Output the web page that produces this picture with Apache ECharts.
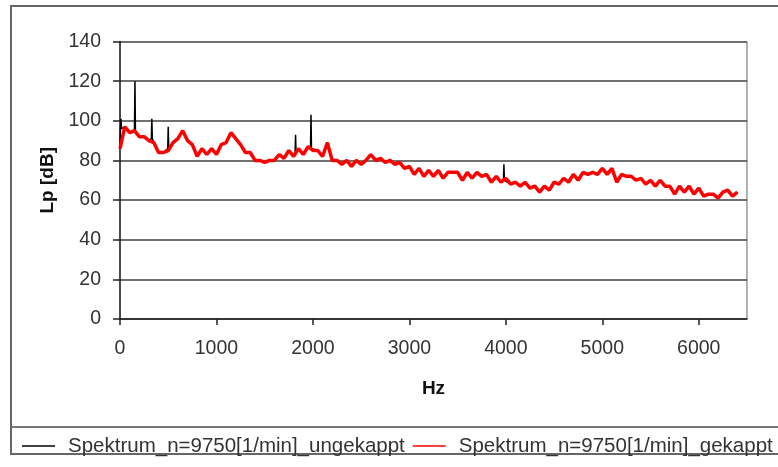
<!DOCTYPE html>
<html>
<head>
<meta charset="utf-8">
<title>Spektrum n=9750</title>
<script src="https://cdn.jsdelivr.net/npm/echarts@6/dist/echarts.min.js"></script>
<style>
  html, body { margin: 0; padding: 0; background: #fff; }
  #chart { width: 778px; height: 467px; }
</style>
</head>
<body>
<div id="chart"></div>
<script>
// Sound pressure level spectrum, sampled every 50 Hz (0 ... 6400 Hz)
const lpGekappt = [
  86, 97, 94, 95, 92, 92, 90, 89, 84, 84,
  85, 89, 91, 95, 90, 88, 82, 86, 83, 86,
  83, 88, 89, 94, 91, 88, 84, 84, 80, 80,
  79, 80, 80, 83, 81, 85, 82, 86, 83, 87,
  85, 85, 82, 89, 80, 80, 78, 80, 77, 80,
  78, 80, 83, 80, 81, 79, 80, 78, 79, 76,
  77, 73, 76, 72, 75, 72, 75, 71, 74, 74,
  74, 70, 74, 71, 74, 72, 73, 69, 72, 69,
  71, 68, 69, 67, 69, 66, 67, 64, 67, 65,
  69, 68, 71, 69, 73, 70, 74, 73, 74, 73,
  76, 73, 76, 69, 73, 72, 72, 70, 71, 68,
  70, 67, 70, 67, 67, 63, 67, 64, 67, 63,
  66, 62, 63, 63, 61, 64, 65, 62, 64
];
const hzStep = 50;
const hz = lpGekappt.map((_, i) => i * hzStep);

// Tonal peaks of the unclipped spectrum: [Hz, peak dB, floor dB]
const spitzenUngekappt = [
  [10, 101, 96],
  [155, 120, 94],
  [330, 101, 91],
  [500, 97, 86],
  [1820, 93, 84],
  [1980, 103, 86],
  [3980, 78, 70]
];

const yTicks = [0, 20, 40, 60, 80, 100, 120, 140];
const xTicks = [0, 1000, 2000, 3000, 4000, 5000, 6000];

const nameUngekappt = 'Spektrum_n=9750[1/min]_ungekappt';
const nameGekappt = 'Spektrum_n=9750[1/min]_gekappt';

// clipped curve as [x, y] pairs
const gekapptData = hz.map((f, i) => [f, lpGekappt[i]]);

// unclipped curve: same floor plus the narrow tonal peaks
const ungekapptData = gekapptData.slice();
spitzenUngekappt.forEach(([f, peak, floor]) => {
  ungekapptData.push([f - 5, floor], [f, peak], [f + 5, floor]);
});
ungekapptData.sort((a, b) => a[0] - b[0]);

const FONT = '"Liberation Sans", Arial, sans-serif';

const chart = echarts.init(document.getElementById('chart'), null, { renderer: 'canvas' });
chart.setOption({
  animation: false,
  backgroundColor: '#ffffff',
  textStyle: { fontFamily: FONT },
  grid: { left: 120, right: 31, top: 41.5, bottom: 148, show: false },
  graphic: [
    { type: 'rect', silent: true, z: -1,
      shape: { x: 11, y: 6, width: 800, height: 448 },
      style: { fill: 'none', stroke: '#666', lineWidth: 2 } },
    { type: 'line', silent: true,
      shape: { x1: 11, y1: 427, x2: 800, y2: 427 },
      style: { stroke: '#777', lineWidth: 2 } },
    // right frame of the plot area
    { type: 'line', silent: true,
      shape: { x1: 747, y1: 41.5, x2: 747, y2: 319 },
      style: { stroke: '#999', lineWidth: 1.5 } }
  ],
  legend: {
    left: 17, top: 429, width: 1500,
    itemWidth: 33, itemHeight: 1.5, itemGap: 8,
    icon: 'rect',
    textStyle: { fontFamily: FONT, fontSize: 20.5, lineHeight: 24, color: '#333', padding: [0, 0, 0, 8] },
    data: [nameUngekappt, nameGekappt]
  },
  xAxis: {
    type: 'value', min: 0, max: 6500, interval: 1000,
    name: 'Hz', nameLocation: 'middle', nameGap: 60,
    nameTextStyle: { fontFamily: FONT, fontSize: 19, fontWeight: 'bold', color: '#111' },
    axisLine: { show: true, onZero: false, lineStyle: { color: '#222', width: 1.5 } },
    axisTick: { show: true, inside: false, length: 6, lineStyle: { color: '#222', width: 1.5 } },
    axisLabel: {
      fontFamily: FONT, fontSize: 19.5, color: '#333', margin: 20,
      showMaxLabel: false,
      formatter: v => (xTicks.indexOf(v) >= 0 ? String(v) : '')
    },
    splitLine: { show: false }
  },
  yAxis: {
    type: 'value', min: 0, max: 140, interval: 20,
    name: 'Lp [dB]', nameLocation: 'middle', nameGap: 63, nameRotate: 90,
    nameTextStyle: { fontFamily: FONT, fontSize: 19, fontWeight: 'bold', color: '#111' },
    axisLine: { show: true, lineStyle: { color: '#111', width: 1.5 } },
    axisTick: { show: true, inside: false, length: 7, lineStyle: { color: '#222', width: 1.5 } },
    axisLabel: {
      fontFamily: FONT, fontSize: 19.5, color: '#333', margin: 19,
      formatter: v => (yTicks.indexOf(v) >= 0 ? String(v) : '')
    },
    splitLine: { show: true, lineStyle: { color: '#404040', width: 1.7 } }
  },
  series: [
    {
      name: nameUngekappt, type: 'line', data: ungekapptData,
      symbol: 'none', color: '#000',
      lineStyle: { color: '#000', width: 1.5 }, z: 2
    },
    {
      name: nameGekappt, type: 'line', data: gekapptData,
      symbol: 'none', color: '#ff0000',
      lineStyle: { color: '#ff0000', width: 3.5 }, z: 3
    }
  ]
});
</script>
</body>
</html>
